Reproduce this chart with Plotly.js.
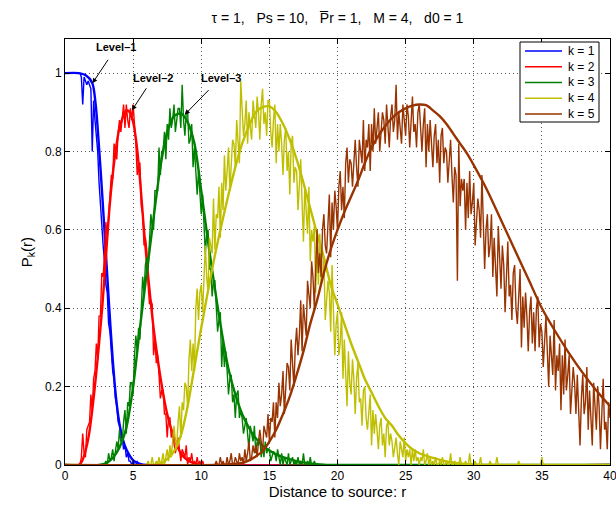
<!DOCTYPE html>
<html>
<head>
<meta charset="utf-8">
<script src="https://cdn.plot.ly/plotly-3.0.1.min.js"></script>
<style>html,body{margin:0;padding:0;background:#fff;}#chart{width:616px;height:506px;}</style>
</head>
<body>
<div id="chart"></div>
<script>
// ---------- labels ----------
const seriesNames = ['k = 1', 'k = 2', 'k = 3', 'k = 4', 'k = 5'];
const xTickVals = [0, 5, 10, 15, 20, 25, 30, 35, 40];
const yTickVals = [0, 0.2, 0.4, 0.6, 0.8, 1];
const levelLabels = ['Level–1', 'Level–2', 'Level–3'];
const levelArrowX = [2.01, 4.91, 8.79];
const levelArrowY = [0.974, 0.905, 0.894];

// ---------- theory (smooth) curves ----------
const theoryR1 = [0, 1, 1.5, 2, 2.25, 2.5, 2.75, 3, 3.25, 3.5, 3.75, 4, 4.25, 4.5, 5, 5.5, 6, 40];
const theoryP1 = [1, 1, 0.995, 0.975, 0.92, 0.81, 0.68, 0.54, 0.40, 0.27, 0.17, 0.105, 0.065, 0.04, 0.012, 0.003, 0, 0];

const theoryR2 = [0, 1, 1.25, 1.5, 1.75, 2, 2.25, 2.5, 2.75, 3, 3.25, 3.5, 3.75, 4, 4.5, 4.75, 5, 5.25, 5.5, 5.75, 6, 6.25, 6.5, 6.75, 7, 7.5, 8, 8.5, 9, 9.5, 10, 40];
const theoryP2 = [0, 0, 0.01, 0.035, 0.075, 0.14, 0.22, 0.31, 0.41, 0.53, 0.65, 0.74, 0.81, 0.86, 0.905, 0.9, 0.875, 0.82, 0.73, 0.62, 0.52, 0.43, 0.35, 0.285, 0.225, 0.13, 0.07, 0.03, 0.012, 0.004, 0, 0];

const theoryR3 = [0, 2.5, 3, 3.5, 4, 4.5, 5, 5.5, 6, 6.5, 7, 7.5, 8, 8.5, 9, 9.5, 10, 10.5, 11, 11.5, 12, 12.5, 13, 13.5, 14, 14.5, 15, 15.5, 16, 17, 18, 19, 20, 40];
const theoryP3 = [0, 0, 0.004, 0.018, 0.045, 0.095, 0.2, 0.35, 0.49, 0.63, 0.76, 0.85, 0.89, 0.897, 0.875, 0.82, 0.70, 0.57, 0.45, 0.34, 0.245, 0.18, 0.13, 0.095, 0.068, 0.05, 0.037, 0.027, 0.02, 0.01, 0.004, 0.001, 0, 0];

const theoryR4 = [0, 6.5, 7, 7.5, 8, 8.5, 9, 9.5, 10, 10.5, 11, 11.5, 12, 12.5, 13, 13.5, 14, 14.5, 15, 15.5, 16, 16.5, 17, 17.5, 18, 18.5, 19, 19.5, 20, 20.5, 21, 21.5, 22, 22.5, 23, 23.5, 24, 24.5, 25, 25.5, 26, 27, 28, 29, 30, 31, 40];
const theoryP4 = [0, 0, 0.003, 0.015, 0.035, 0.075, 0.15, 0.25, 0.35, 0.445, 0.535, 0.615, 0.69, 0.76, 0.82, 0.865, 0.9, 0.913, 0.915, 0.9, 0.87, 0.83, 0.78, 0.72, 0.655, 0.59, 0.53, 0.46, 0.41, 0.36, 0.31, 0.265, 0.22, 0.185, 0.15, 0.12, 0.10, 0.075, 0.055, 0.04, 0.03, 0.018, 0.009, 0.004, 0.001, 0, 0];

const theoryR5 = [0, 11, 12, 13, 13.5, 14, 14.5, 15, 15.5, 16, 16.5, 17, 17.5, 18, 18.5, 19, 19.5, 20, 20.5, 21, 21.5, 22, 22.5, 23, 23.5, 24, 24.5, 25, 25.5, 26, 26.5, 27, 27.5, 28, 28.5, 29, 29.5, 30, 31, 32, 33, 34, 35, 36, 37, 38, 39, 40];
const theoryP5 = [0, 0, 0.002, 0.005, 0.012, 0.022, 0.035, 0.06, 0.09, 0.13, 0.175, 0.23, 0.29, 0.36, 0.42, 0.49, 0.55, 0.6, 0.645, 0.685, 0.725, 0.77, 0.81, 0.84, 0.865, 0.885, 0.9, 0.91, 0.917, 0.92, 0.918, 0.905, 0.89, 0.87, 0.845, 0.82, 0.795, 0.765, 0.70, 0.625, 0.55, 0.475, 0.40, 0.34, 0.285, 0.235, 0.19, 0.15];

// ---------- simulation (noisy) curves, sampled every 0.1 from the given start ----------
const simStep = 0.1;
const simStart1 = 0;
const simP1 = [1,1,1,1,1,1,1,1,1,1,1,
  1.00,0.99,0.92,0.99,0.98,0.97,0.98,0.97,0.96,0.80,0.93,
  0.88,0.83,0.80,0.72,0.66,0.63,0.56,0.52,0.46,
  0.44,0.36,0.34,0.29,0.24,0.22,0.17,0.15,0.11,0.10,
  0.07,0.07,0.04,0.05,0.02,0.03,0.01,0.01,0.00,0.01,
  0,0,0.01,0];

const simStart2 = 0.9;
const simP2 = [0,0,
  0.00,0.02,0.08,0.03,0.02,0.09,0.10,0.11,0.18,
  0.14,0.22,0.24,0.31,0.27,0.38,0.38,0.49,0.48,0.54,
  0.62,0.58,0.64,0.71,0.74,0.73,0.82,0.80,0.78,0.85,
  0.88,0.85,0.88,0.92,0.86,0.92,0.88,0.86,0.91,0.88,
  0.92,0.88,0.82,0.74,0.77,0.77,0.66,0.64,0.56,0.58,
  0.55,0.46,0.41,0.42,0.41,0.28,0.32,0.26,0.28,0.23,
  0.17,0.19,0.19,0.13,0.13,0.07,0.12,0.12,0.07,0.08,
  0.06,0.03,0.05,0.07,0.04,0.01,0.04,0.03,0.02,0.05,
  0.00,0.02,0.01,0.03,0.00,0.01,0.00,0.02,0.00,0.01,
  0.00,0.01,0.00,0.00];

const simStart3 = 2.8;
const simP3 = [0,0,
  0.01,0.00,0.03,0.01,0.02,0.04,0.01,0.03,0.06,0.04,
  0.09,0.06,0.06,0.11,0.14,0.08,0.16,0.15,0.21,0.21,
  0.18,0.28,0.33,0.29,0.35,0.32,0.43,0.48,0.44,0.51,
  0.53,0.50,0.57,0.64,0.61,0.60,0.70,0.70,0.70,0.81,
  0.74,0.80,0.80,0.85,0.78,0.87,0.83,0.91,0.86,0.88,
  0.92,0.85,0.88,0.91,0.91,0.86,0.97,0.88,0.84,0.90,
  0.90,0.82,0.83,0.87,0.76,0.81,0.75,0.69,0.75,0.70,
  0.64,0.69,0.63,0.54,0.59,0.60,0.50,0.50,0.43,0.47,
  0.47,0.39,0.34,0.37,0.39,0.25,0.32,0.25,0.29,0.24,
  0.18,0.22,0.23,0.16,0.18,0.12,0.18,0.19,0.12,0.14,
  0.12,0.08,0.10,0.12,0.08,0.04,0.10,0.08,0.06,0.10,
  0.03,0.06,0.05,0.07,0.02,0.05,0.02,0.06,0.03,0.04,
  0.04,0.01,0.02,0.035,0.03,0.01,0.04,0.02,0.00,0.03,
  0.00,0.02,0.01,0.00,0.03,0.00,0.01,0.02,0.00,0.01,
  0.00,0.02,0.00,0.01,0.00,0.03,0.00,0.00,0.01,0.00,
  0.02,0.00,0.00,0.01,0.00,0.00];

const simStart4 = 6.0;
const simP4 = [0,0.01,0,0,0.02,0,0,0.01,0,0.02,
  0,0.01,0.03,0,0.02,0.04,0.01,0.05,0.02,0.06,
  0.10,0.06,0.05,0.11,0.15,0.07,0.16,0.14,0.21,0.20,
  0.15,0.27,0.32,0.24,0.31,0.24,0.40,0.45,0.37,0.44,
  0.46,0.39,0.48,0.56,0.48,0.44,0.58,0.56,0.54,0.68,
  0.55,0.64,0.63,0.71,0.58,0.72,0.65,0.79,0.70,0.75,
  0.81,0.70,0.76,0.83,0.82,0.76,0.88,0.82,0.77,0.98,
  0.90,0.84,0.87,0.93,0.82,0.90,0.86,0.83,0.93,0.90,
  0.86,0.94,0.90,0.83,0.92,0.96,0.87,0.90,0.84,0.93,
  0.93,0.85,0.81,0.88,0.92,0.77,0.87,0.80,0.87,0.82,
  0.74,0.83,0.86,0.75,0.80,0.69,0.82,0.84,0.72,0.76,
  0.75,0.65,0.72,0.78,0.67,0.57,0.71,0.64,0.59,0.71,
  0.52,0.60,0.57,0.61,0.44,0.57,0.46,0.59,0.46,0.48,
  0.53,0.37,0.42,0.47,0.44,0.34,0.51,0.39,0.28,0.36,
  0.39,0.28,0.31,0.39,0.22,0.32,0.23,0.15,0.29,0.21,
  0.18,0.27,0.22,0.13,0.22,0.26,0.16,0.17,0.10,0.19,
  0.20,0.12,0.09,0.15,0.18,0.05,0.14,0.08,0.13,0.09,
  0.04,0.10,0.12,0.05,0.08,0.02,0.10,0.11,0.05,0.08,
  0.06,0.02,0.05,0.07,0.03,0.00,0.06,0.04,0.02,0.07,
  0.01,0.04,0.02,0.04,0.00,0.04,0.01,0.04,0.01,0.02,
  0.00,0.02,0.01,0.04,0.00,0.01,0.03,0.00,0.02,0.00,
  0.01,0.00,0.02,0.00,0.00,0.01,0.00,0.02,0.00,0.00,
  0.01,0.00,0.00,0.03,0.00,0.00,0.01,0.00,0.00,0.00,
  0.02,0.00,0.00,0.00,0.01,0.00,0.00,0.03,0.00,0.00,
  0.00,0.01,0.00,0.00,0.00,0.02,0.00,0.00,0.00,0.00,
  0.00,0.00,0.01,0.00,0.00,0.00,0.00,0.02,0.00,0.00,
  0.00,0.00,0.00,0.00,0.00,0.00,0.00,0.00,0.00,0.00,
  0.00,0.00,0.00,0.01,0.00,0.00,0.00,0.00,0.00,0.00,
  0,0,0,0,0,0,0,0,0,0,
  0.02,0];

const simStart5 = 11.0;
const simP5 = [0,0.01,0,0,0.02,0,0.01,0,0,0.02,
  0,0.01,0.03,0,0,0.02,0.01,0,0.03,0.01,
  0.02,0,0.04,0.01,0.03,0.06,0.01,0.02,0.05,0.03,
  0.05,0.02,0.06,0.09,0.06,0.03,0.10,0.08,0.07,0.13,
  0.06,0.12,0.11,0.16,0.07,0.16,0.12,0.21,0.15,0.18,
  0.24,0.13,0.19,0.26,0.25,0.19,0.32,0.26,0.20,0.30,
  0.35,0.28,0.33,0.42,0.29,0.41,0.36,0.33,0.47,0.44,
  0.40,0.52,0.48,0.40,0.53,0.60,0.49,0.54,0.48,0.60,
  0.64,0.56,0.54,0.63,0.69,0.53,0.67,0.60,0.70,0.66,
  0.60,0.71,0.75,0.65,0.71,0.63,0.77,0.81,0.72,0.78,
  0.77,0.71,0.77,0.83,0.76,0.71,0.83,0.79,0.77,0.88,
  0.75,0.83,0.81,0.87,0.75,0.87,0.80,0.91,0.82,0.86,
  0.90,0.80,0.85,0.90,0.88,0.82,0.92,0.86,0.81,0.89,
  0.92,0.85,0.88,0.97,0.83,0.90,0.85,0.82,0.92,0.88,
  0.84,0.92,0.89,0.81,0.89,0.94,0.85,0.87,0.81,0.90,
  0.92,0.84,0.80,0.87,0.91,0.76,0.87,0.80,0.88,0.82,
  0.76,0.84,0.87,0.77,0.83,0.72,0.84,0.86,0.77,0.81,
  0.80,0.72,0.77,0.83,0.74,0.67,0.76,0.74,0.47,0.82,
  0.66,0.73,0.70,0.73,0.60,0.72,0.63,0.75,0.64,0.67,
  0.72,0.56,0.62,0.68,0.65,0.58,0.74,0.60,0.50,0.60,
  0.64,0.53,0.56,0.64,0.48,0.58,0.50,0.43,0.61,0.51,
  0.45,0.56,0.51,0.39,0.51,0.57,0.43,0.46,0.37,0.49,
  0.51,0.40,0.36,0.44,0.50,0.30,0.43,0.35,0.44,0.38,
  0.29,0.39,0.43,0.31,0.39,0.29,0.40,0.43,0.30,0.36,
  0.34,0.25,0.31,0.38,0.29,0.20,0.33,0.28,0.23,0.37,
  0.19,0.28,0.24,0.31,0.14,0.28,0.18,0.32,0.19,0.23,
  0.28,0.13,0.18,0.25,0.21,0.13,0.23,0.14,0.05,0.17,
  0.23,0.13,0.16,0.25,0.09,0.19,0.12,0.05,0.21,0.14,
  0.09,0.20,0.15,0.04,0.15,0.22,0.09,0.11,0.04,0.16,
  0.12];

// ---------- styling ----------
const colors = ['#0000ff', '#ff0000', '#008000', '#bfbf00', '#993300'];
const FONT = 'Liberation Sans, Arial, Helvetica, sans-serif';

const theoryR = [theoryR1, theoryR2, theoryR3, theoryR4, theoryR5];
const theoryP = [theoryP1, theoryP2, theoryP3, theoryP4, theoryP5];
const simStarts = [simStart1, simStart2, simStart3, simStart4, simStart5];
const simP = [simP1, simP2, simP3, simP4, simP5];
const xMin = 0, xMax = 40;

const traces = [];
for (let k = 0; k < 5; k++) {
  // simulation samples; the simulated probability is zero outside the listed range
  let sx = simP[k].map((_, i) => +(simStarts[k] + i * simStep).toFixed(2));
  let sy = simP[k].slice();
  if (sx[0] > xMin) { sx.unshift(xMin); sy.unshift(0); }
  if (sx[sx.length - 1] < xMax) { sx.push(xMax); sy.push(0); }
  traces.push({
    x: sx, y: sy, type: 'scatter', mode: 'lines',
    line: { color: colors[k], width: 1.4 },
    showlegend: false, hoverinfo: 'skip'
  });
  traces.push({
    x: theoryR[k], y: theoryP[k], type: 'scatter', mode: 'lines',
    name: seriesNames[k],
    line: { color: colors[k], width: 2.4, shape: 'spline', smoothing: 0.8 },
    showlegend: false
  });
}

// ---------- annotations (level labels with arrows) ----------
const arrowAx = [24, 21, 36];
const arrowAy = [-36, -32, -37];
const arrowGap = [6, 3, 7];
const annotations = levelLabels.map((t, i) => ({
  x: levelArrowX[i], y: levelArrowY[i], xref: 'x', yref: 'y',
  text: '<b>' + t + '</b>', showarrow: true, arrowhead: 2, arrowsize: 1, arrowwidth: 1,
  arrowcolor: '#000', ax: arrowAx[i], ay: arrowAy[i], startstandoff: arrowGap[i],
  font: { family: FONT, size: 11, color: '#000' }
}));

// ---------- legend box (MATLAB style, compact) ----------
const plotL = 65, plotR = 610, plotT = 39, plotB = 465;
const px2paperX = p => (p - plotL) / (plotR - plotL);
const px2paperY = p => (plotB - p) / (plotB - plotT);
const legBox = { x0: 520, x1: 599, y0: 42, y1: 122 };
const legRowY0 = 51, legRowDY = 15.75;
const shapes = [{
  type: 'rect', xref: 'paper', yref: 'paper', layer: 'above',
  x0: px2paperX(legBox.x0), x1: px2paperX(legBox.x1),
  y0: px2paperY(legBox.y1), y1: px2paperY(legBox.y0),
  line: { color: '#000', width: 1 }, fillcolor: '#fff'
}];
seriesNames.forEach((name, k) => {
  const py = legRowY0 + k * legRowDY;
  shapes.push({
    type: 'line', xref: 'paper', yref: 'paper', layer: 'above',
    x0: px2paperX(525), x1: px2paperX(562), y0: px2paperY(py), y1: px2paperY(py),
    line: { color: colors[k], width: 1.5 }
  });
  annotations.push({
    xref: 'paper', yref: 'paper', x: px2paperX(566), y: px2paperY(py),
    xanchor: 'left', yanchor: 'middle', showarrow: false, text: name,
    font: { family: FONT, size: 12, color: '#000' }
  });
});

const axisCommon = {
  showline: true, linecolor: '#000', linewidth: 1, mirror: 'ticks',
  ticks: 'inside', ticklen: 5, tickcolor: '#000', tickwidth: 1,
  showgrid: true, gridcolor: '#555', gridwidth: 1, griddash: '1px,3px',
  zeroline: false, ticklabeloverflow: 'allow',
  tickfont: { family: FONT, size: 12, color: '#000' }
};

const layout = {
  width: 616, height: 506,
  margin: { l: plotL, r: 616 - plotR, t: plotT, b: 506 - plotB },
  paper_bgcolor: '#fff', plot_bgcolor: '#fff',
  font: { family: FONT, color: '#000' },
  title: {
    text: 'τ = 1,\u00a0\u00a0\u00a0Ps = 10,\u00a0\u00a0\u00a0P\u0305r = 1,\u00a0\u00a0\u00a0M = 4,\u00a0\u00a0\u00a0d0 = 1',
    font: { family: FONT, size: 14, color: '#000' },
    x: (plotL + plotR) / 2 / 616, xanchor: 'center', y: 1 - 18 / 506, yanchor: 'middle', yref: 'container'
  },
  xaxis: Object.assign({}, axisCommon, {
    range: [xMin, xMax], tickvals: xTickVals, autorange: false,
    title: { text: 'Distance to source: r', font: { family: FONT, size: 15, color: '#000' }, standoff: 4 }
  }),
  yaxis: Object.assign({}, axisCommon, {
    range: [0, 1.087], tickvals: yTickVals, autorange: false,
    title: { text: 'P<sub>k</sub>(r)', font: { family: FONT, size: 15, color: '#000' }, standoff: 8 }
  }),
  shapes: shapes,
  annotations: annotations,
  showlegend: false
};

Plotly.newPlot('chart', traces, layout, { displayModeBar: false, staticPlot: true });
</script>
</body>
</html>
